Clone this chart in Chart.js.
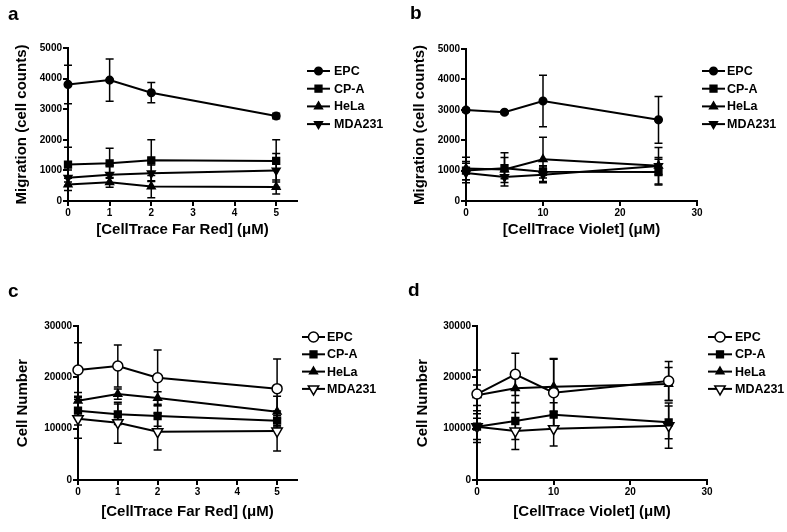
<!DOCTYPE html>
<html><head><meta charset="utf-8">
<script src="https://cdn.jsdelivr.net/npm/chart.js@4.4.1/dist/chart.umd.min.js"></script>
<style>
html,body{margin:0;padding:0;background:#fff;}
#wrap{position:relative;width:787px;height:532px;overflow:hidden;background:#fff;}
canvas{position:absolute;}
</style></head><body>
<div id="wrap">
<canvas id="ca" width="393" height="260" style="left:0px;top:0px"></canvas>
<canvas id="cb" width="394" height="260" style="left:393px;top:0px"></canvas>
<canvas id="cc" width="393" height="272" style="left:0px;top:260px"></canvas>
<canvas id="cd" width="394" height="272" style="left:393px;top:260px"></canvas>
</div>
<script>
// ---------- data ----------
const seriesNames = ['EPC', 'CP-A', 'HeLa', 'MDA231'];
const xFarRed = [0, 1, 2, 5];
const xViolet = [0, 5, 10, 25];
const farRedTicks = [0, 1, 2, 3, 4, 5];
const violetTicks = [0, 10, 20, 30];
const migrationTicks = [0, 1000, 2000, 3000, 4000, 5000];
const cellTicks = [0, 10000, 20000, 30000];

// panel a: migration vs CellTrace Far Red
const aEPC = [3810, 3950, 3540, 2780];
const aEPCErr = [630, 690, 330, 90];
const aCPA = [1190, 1230, 1330, 1310];
const aCPAErr = [570, 490, 670, 690];
const aHeLa = [540, 610, 470, 460];
const aHeLaErr = [200, 160, 360, 230];
const aMDA = [760, 860, 905, 1000];
const aMDAErr = [250, 300, 270, 550];

// panel b: migration vs CellTrace Violet
const bEPC = [2990, 2920, 3290, 2670];
const bEPCErr = [60, 50, 850, 770];
const bCPA = [1000, 1080, 960, 950];
const bCPAErr = [300, 350, 200, 420];
const bHeLa = [1070, 1040, 1370, 1160];
const bHeLaErr = [370, 550, 730, 600];
const bMDA = [920, 790, 860, 1150];
const bMDAErr = [320, 180, 260, 280];

// panel c: cell number vs CellTrace Far Red
const cEPC = [21430, 22210, 19930, 17790];
const cEPCErr = [5300, 4100, 5400, 5800];
const cCPA = [13510, 12790, 12470, 11560];
const cCPAErr = [2800, 2000, 2000, 1000];
const cHeLa = [15450, 16750, 15970, 13310];
const cHeLaErr = [1600, 1000, 1200, 3000];
const cMDA = [11950, 11170, 9420, 9545];
const cMDAErr = [3800, 4000, 3600, 3900];

// panel d: cell number vs CellTrace Violet
const dEPC = [16750, 20580, 17010, 19290];
const dEPCErr = [4700, 4100, 6500, 3800];
const dCPA = [10390, 11490, 12730, 11230];
const dCPAErr = [2500, 3600, 2300, 3200];
const dHeLa = [16500, 17860, 18180, 18700];
const dHeLaErr = [2000, 2800, 5500, 3200];
const dMDA = [10390, 9545, 10000, 10580];
const dMDAErr = [3100, 3600, 3400, 4400];

// ---------- drawing helpers ----------
const FONT = "'Liberation Sans', Arial, Helvetica, sans-serif";

function drawMarker(ctx, style, x, y, r, rot, fill) {
  ctx.save();
  ctx.translate(x, y);
  ctx.rotate(rot * Math.PI / 180);
  ctx.beginPath();
  if (style === 'circle') {
    ctx.arc(0, 0, r, 0, Math.PI * 2);
  } else if (style === 'rect') {
    const s = r * Math.SQRT1_2;
    ctx.rect(-s, -s, 2 * s, 2 * s);
  } else if (style === 'triangle') {
    ctx.moveTo(0, -r);
    ctx.lineTo(r * 0.866, r * 0.5);
    ctx.lineTo(-r * 0.866, r * 0.5);
    ctx.closePath();
  }
  ctx.fillStyle = fill;
  ctx.fill();
  ctx.lineWidth = 1.5;
  ctx.strokeStyle = '#000';
  ctx.stroke();
  ctx.restore();
}

const errorBarPlugin = {
  id: 'errorBars',
  beforeDatasetsDraw(chart) {
    const ctx = chart.ctx;
    const xs = chart.scales.x, ys = chart.scales.y;
    ctx.save();
    ctx.strokeStyle = '#000';
    ctx.lineWidth = 1.5;
    chart.data.datasets.forEach(ds => {
      ds.data.forEach((p, i) => {
        const e = ds.errors[i];
        const px = xs.getPixelForValue(p.x);
        const top = ys.getPixelForValue(p.y + e);
        const bot = ys.getPixelForValue(Math.max(0, p.y - e));
        ctx.beginPath();
        ctx.moveTo(px, top); ctx.lineTo(px, bot);
        ctx.moveTo(px - 4, top); ctx.lineTo(px + 4, top);
        ctx.moveTo(px - 4, bot); ctx.lineTo(px + 4, bot);
        ctx.stroke();
      });
    });
    ctx.restore();
  }
};

const legendPlugin = {
  id: 'customLegend',
  afterDraw(chart) {
    const o = chart.options.plugins.customLegend;
    const ctx = chart.ctx;
    ctx.save();
    chart.data.datasets.forEach((ds, i) => {
      const y = o.y0 + i * o.dy;
      ctx.beginPath();
      ctx.strokeStyle = '#000';
      ctx.lineWidth = 2;
      ctx.moveTo(o.x0, y); ctx.lineTo(o.x1, y);
      ctx.stroke();
      drawMarker(ctx, ds.pointStyle, (o.x0 + o.x1) / 2, y, ds.pointRadius, ds.pointRotation || 0, ds.pointBackgroundColor);
      ctx.fillStyle = '#000';
      ctx.font = 'bold 12.5px ' + FONT;
      ctx.textBaseline = 'middle';
      ctx.textAlign = 'left';
      ctx.fillText(ds.label, o.tx, y + 0.5);
    });
    // panel letter
    ctx.font = 'bold 19px ' + FONT;
    ctx.textBaseline = 'alphabetic';
    ctx.fillText(o.letter, o.lx, o.ly);
    ctx.restore();
  }
};

function mkDatasets(xArr, vals, errs, openMarkers) {
  const styles = [
    { ps: 'circle', r: openMarkers ? 5 : 3.8, rot: 0, fill: openMarkers ? '#fff' : '#000' },
    { ps: 'rect', r: 4.8, rot: 0, fill: '#000' },
    { ps: 'triangle', r: 4.5, rot: 0, fill: '#000' },
    { ps: 'triangle', r: openMarkers ? 6 : 4.5, rot: 180, fill: openMarkers ? '#fff' : '#000' }
  ];
  return vals.map((v, i) => ({
    label: seriesNames[i],
    data: xArr.map((x, j) => ({ x: x, y: v[j] })),
    errors: errs[i],
    borderColor: '#000',
    borderWidth: 2,
    pointStyle: styles[i].ps,
    pointRadius: styles[i].r,
    pointRotation: styles[i].rot,
    pointBackgroundColor: styles[i].fill,
    pointBorderColor: '#000',
    pointBorderWidth: 1.5,
    fill: false,
    tension: 0,
    clip: false
  }));
}

function makeChart(id, datasets, L) {
  const tickFont = { family: FONT, size: 10, weight: 'bold' };
  const titleFont = { family: FONT, size: 15, weight: 'bold' };
  return new Chart(document.getElementById(id), {
    type: 'line',
    data: { datasets: datasets },
    plugins: [errorBarPlugin, legendPlugin],
    options: {
      responsive: false,
      animation: false,
      events: [],
      layout: { padding: { left: 0, top: L.top, right: L.right, bottom: 0 } },
      plugins: {
        legend: { display: false },
        tooltip: { enabled: false },
        customLegend: L.legend
      },
      scales: {
        x: {
          type: 'linear', min: 0, max: L.xmax,
          afterBuildTicks: s => { s.ticks = L.xticks.map(v => ({ value: v })); },
          afterFit: s => { s.height = L.xh; },
          ticks: { font: tickFont, color: '#000', padding: 1, maxRotation: 0, autoSkip: false, callback: v => String(v) },
          grid: { display: true, drawOnChartArea: false, drawTicks: true, tickLength: 5, color: '#000', lineWidth: 2 },
          border: { display: true, color: '#000', width: 2 },
          title: { display: true, text: L.xtitle, font: titleFont, color: '#000', padding: { top: 0, bottom: L.xtpad } }
        },
        y: {
          type: 'linear', min: 0, max: L.ymax,
          afterBuildTicks: s => { s.ticks = L.yticks.map(v => ({ value: v })); },
          afterFit: s => { s.width = L.yw; },
          ticks: { font: tickFont, color: '#000', padding: 1, callback: v => String(v) },
          grid: { display: true, drawOnChartArea: false, drawTicks: true, tickLength: 5, color: '#000', lineWidth: 2 },
          border: { display: true, color: '#000', width: 2 },
          title: { display: true, text: L.ytitle, font: titleFont, color: '#000', padding: { top: L.ytpad, bottom: 0 } }
        }
      }
    }
  });
}

// panel a
makeChart('ca', mkDatasets(xFarRed, [aEPC, aCPA, aHeLa, aMDA], [aEPCErr, aCPAErr, aHeLaErr, aMDAErr], false), {
  top: 48, right: 96, xh: 59, yw: 68, xtpad: 21, ytpad: 13,
  xmax: 5.5, ymax: 5000, xticks: farRedTicks, yticks: migrationTicks,
  xtitle: '[CellTrace Far Red] (\u03BCM)', ytitle: 'Migration (cell counts)',
  legend: { x0: 307, x1: 330, tx: 334, y0: 71, dy: 17.7, letter: 'a', lx: 8, ly: 20 }
});
// panel b
makeChart('cb', mkDatasets(xViolet, [bEPC, bCPA, bHeLa, bMDA], [bEPCErr, bCPAErr, bHeLaErr, bMDAErr], false), {
  top: 49, right: 90, xh: 59, yw: 73, xtpad: 21, ytpad: 18,
  xmax: 30, ymax: 5000, xticks: violetTicks, yticks: migrationTicks,
  xtitle: '[CellTrace Violet] (\u03BCM)', ytitle: 'Migration (cell counts)',
  legend: { x0: 309, x1: 332, tx: 334, y0: 71, dy: 17.7, letter: 'b', lx: 17, ly: 19 }
});
// panel c
makeChart('cc', mkDatasets(xFarRed, [cEPC, cCPA, cHeLa, cMDA], [cEPCErr, cCPAErr, cHeLaErr, cMDAErr], true), {
  top: 66, right: 96, xh: 52, yw: 78, xtpad: 11, ytpad: 13.5,
  xmax: 5.5, ymax: 30000, xticks: farRedTicks, yticks: cellTicks,
  xtitle: '[CellTrace Far Red] (\u03BCM)', ytitle: 'Cell Number',
  legend: { x0: 302, x1: 325, tx: 327, y0: 77, dy: 17.3, letter: 'c', lx: 8, ly: 37 }
});
// panel d
makeChart('cd', mkDatasets(xViolet, [dEPC, dCPA, dHeLa, dMDA], [dEPCErr, dCPAErr, dHeLaErr, dMDAErr], true), {
  top: 66, right: 80, xh: 52, yw: 84, xtpad: 11, ytpad: 21,
  xmax: 30, ymax: 30000, xticks: violetTicks, yticks: cellTicks,
  xtitle: '[CellTrace Violet] (\u03BCM)', ytitle: 'Cell Number',
  legend: { x0: 315, x1: 339, tx: 342, y0: 77, dy: 17.3, letter: 'd', lx: 15, ly: 36 }
});
</script>
</body></html>
